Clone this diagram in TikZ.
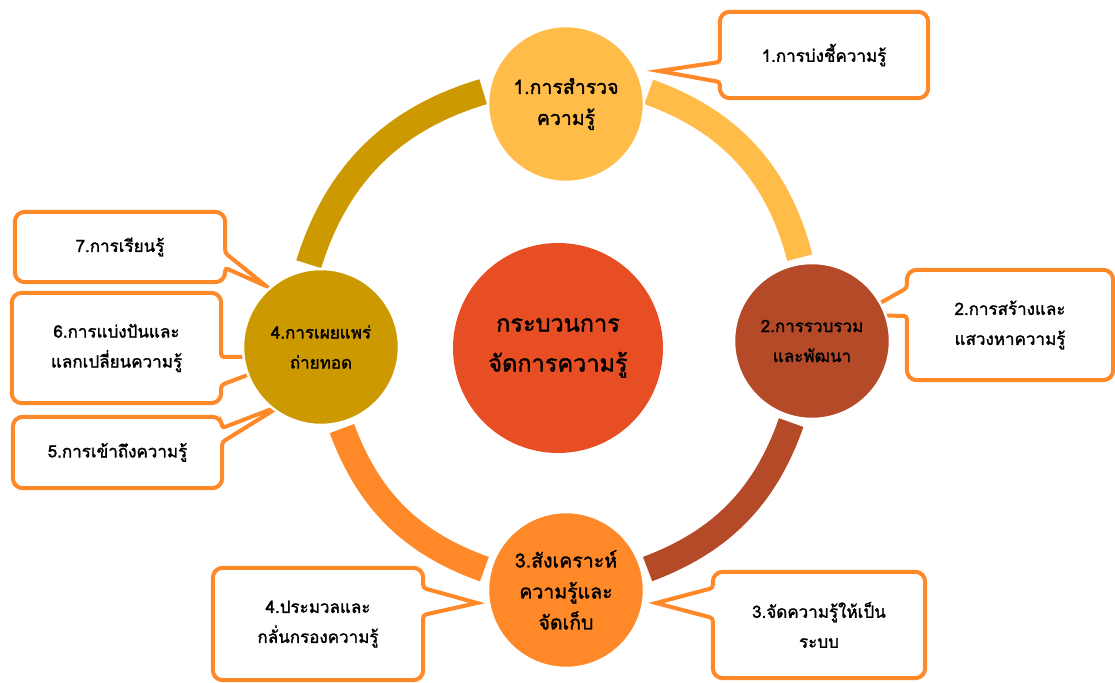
\documentclass[tikz,border=0pt]{standalone}
\usepackage{fontspec}
\newfontfamily\thaifont[Script=Thai, BoldFont=Loma, BoldFeatures={FakeBold=1.6}]{Loma}
\usetikzlibrary{positioning}
\usetikzlibrary{backgrounds}
\definecolor{stepgold}{RGB}{204,154,0}
\definecolor{steplight}{RGB}{255,188,72}
\definecolor{stepbrown}{RGB}{181,74,40}
\definecolor{steporange}{RGB}{255,136,40}
\definecolor{corered}{RGB}{232,78,36}
\tikzset{
    ring/.style = {line width=26pt, shorten <=5pt, shorten >=5pt},
    stage/.style = {circle, draw=white, line width=2.5pt, minimum size=156pt, inner sep=0pt, align=center, font=\thaifont\bfseries\fontsize{17}{30}\selectfont},
    stagebig/.style = {stage, font=\thaifont\bfseries\fontsize{19.5}{31}\selectfont},
    core/.style = {circle, fill=corered, minimum size=210pt, inner sep=0pt, align=center, font=\thaifont\bfseries\fontsize{23.5}{40}\selectfont},
    note/.style = {rectangle, inner sep=0pt, align=center, font=\thaifont\bfseries\fontsize{17}{30}\selectfont},
    callout/.style = {draw=steporange, fill=white, line width=4pt, rounded corners=10pt}
}

\begin{document}
\begin{tikzpicture}[x=1pt, y=1pt]
  \useasboundingbox (0,0) rectangle (1115,682);

  % the four stages and the core
  \node[stagebig, fill=steplight]  (top)    at (566,578) {1.การสำรวจ\\ความรู้};
  \node[stage, fill=stepbrown]     (right)  at (812,341) {2.การรวบรวม\\และพัฒนา};
  \node[stagebig, fill=steporange] (bottom) at (566,92)  {3.สังเคราะห์\\ความรู้และ\\จัดเก็บ};
  \node[stage, fill=stepgold]      (left)   at (321,335) {4.การเผยแพร่\\ถ่ายทอด};
  \node[core] (core) at (558,334) {กระบวนการ\\จัดการความรู้};

  % callout texts
  \node[note, minimum width=208pt, minimum height=86pt]  (c1) at (824,627)   {1.การบ่งชี้ความรู้};
  \node[note, minimum width=206pt, minimum height=110pt] (c2) at (1010,357)  {2.การสร้างและ\\แสวงหาความรู้};
  \node[note, minimum width=212pt, minimum height=106pt] (c3) at (819,57)    {3.จัดความรู้ให้เป็น\\ระบบ};
  \node[note, minimum width=210pt, minimum height=112pt] (c4) at (318,58)    {4.ประมวลและ\\กลั่นกรองความรู้};
  \node[note, minimum width=209pt, minimum height=71pt]  (c5) at (117.5,229.5) {5.การเข้าถึงความรู้};
  \node[note, minimum width=209pt, minimum height=110pt] (c6) at (116.5,334) {6.การแบ่งปันและ\\แลกเปลี่ยนความรู้};
  \node[note, minimum width=210pt, minimum height=70pt]  (c7) at (120,435)   {7.การเรียนรู้};

  % pointer tips
  \coordinate (t1) at (659,611);
  \coordinate (t2) at (859,367);
  \coordinate (t3) at (656,79);
  \coordinate (t4) at (477,79);
  \coordinate (t5) at (282,277);
  \coordinate (t6) at (295,325);
  \coordinate (t7) at (266,396);

  \begin{scope}[on background layer]
    % ring
    \draw[ring, stepgold]   (left.100)   to[bend left=28] (top.170);
    \draw[ring, steplight]  (top.10)     to[bend left=28] (right.98);
    \draw[ring, stepbrown]  (right.256)  to[bend left=25] (bottom.14);
    \draw[ring, steporange] (bottom.166) to[bend left=25] (left.284);

    % callout boxes, pointer on the left
    \draw[callout] (c1.north) -- (c1.north east) -- (c1.south east) -- (c1.south west) [rounded corners=3pt] -- ([yshift=-27pt]c1.west) [sharp corners] -- (t1) [rounded corners=3pt] -- ([yshift=-7pt]c1.west) [rounded corners=10pt] -- (c1.north west) -- cycle;
    \draw[callout] (c2.north) -- (c2.north east) -- (c2.south east) -- (c2.south west) [rounded corners=3pt] -- ([yshift=9pt]c2.west) [sharp corners] -- (t2) [rounded corners=3pt] -- ([yshift=37pt]c2.west) [rounded corners=10pt] -- (c2.north west) -- cycle;
    \draw[callout] (c3.north) -- (c3.north east) -- (c3.south east) -- (c3.south west) [rounded corners=3pt] -- ([yshift=7pt]c3.west) [sharp corners] -- (t3) [rounded corners=3pt] -- ([yshift=37pt]c3.west) [rounded corners=10pt] -- (c3.north west) -- cycle;
    % callout boxes, pointer on the right
    \draw[callout] (c4.north) -- (c4.north east) [rounded corners=3pt] -- ([yshift=36pt]c4.east) [sharp corners] -- (t4) [rounded corners=3pt] -- ([yshift=9pt]c4.east) [rounded corners=10pt] -- (c4.south east) -- (c4.south west) -- (c4.north west) -- cycle;
    \draw[callout] (c5.north) -- (c5.north east) [rounded corners=3pt] -- ([yshift=24.5pt]c5.east) [sharp corners] -- (t5) [rounded corners=3pt] -- ([yshift=10.5pt]c5.east) [rounded corners=10pt] -- (c5.south east) -- (c5.south west) -- (c5.north west) -- cycle;
    \draw[callout] (c6.north) -- (c6.north east) [rounded corners=3pt] -- ([yshift=-9pt]c6.east) [sharp corners] -- (t6) [rounded corners=3pt] -- ([yshift=-37pt]c6.east) [rounded corners=10pt] -- (c6.south east) -- (c6.south west) -- (c6.north west) -- cycle;
    \draw[callout] (c7.north) -- (c7.north east) [rounded corners=3pt] -- ([yshift=-6pt]c7.east) [sharp corners] -- (t7) [rounded corners=3pt] -- ([yshift=-21pt]c7.east) [rounded corners=10pt] -- (c7.south east) -- (c7.south west) -- (c7.north west) -- cycle;
  \end{scope}
\end{tikzpicture}
\end{document}
